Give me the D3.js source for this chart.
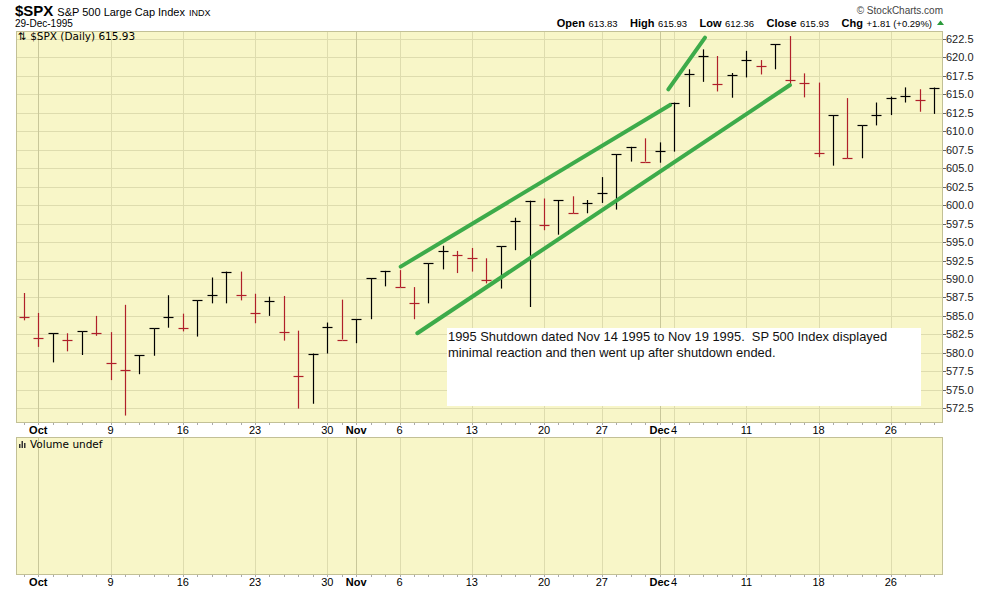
<!DOCTYPE html>
<html><head><meta charset="utf-8">
<script src="https://cdn.jsdelivr.net/npm/d3@7/dist/d3.min.js"></script>
<style>body{margin:0;background:#fff}svg{display:block}</style>
</head><body>
<svg id="chart" width="990" height="591"></svg>
<script>
// ---- data ----
const dates = ["1995-09-29","1995-10-02","1995-10-03","1995-10-04","1995-10-05","1995-10-06","1995-10-09","1995-10-10","1995-10-11","1995-10-12","1995-10-13","1995-10-16","1995-10-17","1995-10-18","1995-10-19","1995-10-20","1995-10-23","1995-10-24","1995-10-25","1995-10-26","1995-10-27","1995-10-30","1995-10-31","1995-11-01","1995-11-02","1995-11-03","1995-11-06","1995-11-07","1995-11-08","1995-11-09","1995-11-10","1995-11-13","1995-11-14","1995-11-15","1995-11-16","1995-11-17","1995-11-20","1995-11-21","1995-11-22","1995-11-24","1995-11-27","1995-11-28","1995-11-29","1995-11-30","1995-12-01","1995-12-04","1995-12-05","1995-12-06","1995-12-07","1995-12-08","1995-12-11","1995-12-12","1995-12-13","1995-12-14","1995-12-15","1995-12-18","1995-12-19","1995-12-20","1995-12-21","1995-12-22","1995-12-26","1995-12-27","1995-12-28","1995-12-29"];
const openP  = [584.8,582.0,582.65,581.75,582.9,582.75,578.6,577.7,579.7,583.3,584.8,583.3,587.1,587.8,591.0,587.8,585.4,587.0,582.8,576.8,579.9,583.5,581.8,584.55,590.1,591.1,588.9,586.7,592.1,593.8,593.25,592.8,589.8,594.4,597.8,600.6,597.3,600.7,598.9,600.3,601.7,606.9,607.9,605.9,607.3,613.9,617.75,620.2,616.4,617.6,619.6,618.8,621.8,617.0,616.6,607.1,612.2,606.35,610.8,612.2,614.5,614.8,614.3,615.93];
const highP  = [588.1,585.4,582.65,582.65,582.9,585.0,582.8,586.5,579.7,583.3,587.8,585.3,587.1,590.2,591.0,591.0,588.0,587.6,587.7,583.0,579.9,584.1,587.2,584.55,590.1,591.1,591.2,588.9,592.1,594.5,593.8,594.2,592.8,594.4,598.3,600.6,600.9,600.7,601.2,600.7,603.8,606.9,607.9,609.05,608.5,613.9,618.4,621.1,620.2,617.9,620.9,619.65,621.8,622.9,617.85,616.6,612.2,614.5,610.8,613.9,614.7,615.95,615.7,615.93];
const lowP   = [584.4,580.8,578.7,580.2,579.7,582.3,576.3,571.5,577.1,579.6,583.4,582.9,582.2,586.7,586.7,587.1,584.0,585.0,581.65,572.45,573.1,579.9,581.8,581.3,584.55,589.0,588.9,584.55,586.7,591.3,590.8,591.0,589.4,588.7,593.9,586.2,596.6,596.0,598.9,598.9,600.3,599.4,605.9,605.9,605.75,607.25,613.3,616.7,615.4,614.55,617.3,617.7,618.4,616.3,614.6,606.5,605.35,606.35,606.35,610.8,612.2,613.9,612.65,612.36];
const closeP = [584.8,582.0,582.65,581.75,582.9,582.75,578.6,577.7,579.7,583.3,584.8,583.3,587.1,587.8,591.0,587.8,585.4,587.0,582.8,576.8,579.9,583.5,581.8,584.55,590.1,591.1,588.9,586.7,592.1,593.8,593.25,592.8,589.8,594.4,597.8,600.6,597.3,600.7,598.9,600.3,601.7,606.9,607.9,605.9,607.3,613.9,617.75,620.2,616.4,617.6,619.6,618.8,621.8,617.0,616.6,607.1,612.2,606.35,610.8,612.2,614.5,614.8,614.3,615.93];
const priorClose = 585.9;

const xTickDates  = ["1995-10-02","1995-10-09","1995-10-16","1995-10-23","1995-10-30","1995-11-01","1995-11-06","1995-11-13","1995-11-20","1995-11-27","1995-12-01","1995-12-04","1995-12-11","1995-12-18","1995-12-26"];
const xTickLabels = ["Oct","9","16","23","30","Nov","6","13","20","27","Dec","4","11","18","26"];
const monthTicks  = ["1995-10-02","1995-11-01","1995-12-01"];
const yTicks = [572.5,575,577.5,580,582.5,585,587.5,590,592.5,595,597.5,600,602.5,605,607.5,610,612.5,615,617.5,620,622.5];

// trend lines drawn on the chart (date index, price)
const upperChannel = [[26.08,591.67],[44.72,613.56]];
const lowerChannel = [[27.23,582.65],[53.02,616.27]];
const steepLine    = [[44.6,615.69],[47.14,622.68]];

const quoteLabels = ["Open","High","Low","Close","Chg"];
const quoteValues = ["613.83","615.93","612.36","615.93","+1.81 (+0.29%)"];

const noteLines = ["1995 Shutdown dated Nov 14 1995 to Nov 19 1995.  SP 500 Index displayed","minimal reaction and then went up after shutdown ended."];

// ---- layout ----
const L = 16, R = 943, T1 = 31.5, B1 = 422.5, T2 = 437.5, B2 = 574.5;
const BG = "#f8f6c8", GRID = "#dedcae", MGRID = "#c9c79a", BORDER = "#c2c096";
const UP = "#000000", DOWN = "#b0202a";
const FONT = "'Liberation Sans', Arial, sans-serif";

const svg = d3.select("#chart");
const x = d3.scaleLinear().domain([-0.543, 63.61]).range([L, R]);
const y = d3.scaleLinear().domain([570.56, 623.52]).range([B1, T1]);
const idx = d => dates.indexOf(d);
const px = v => Math.round(v) + 0.5;

// panels
[[T1,B1],[T2,B2]].forEach(([t,b]) => {
  svg.append("rect").attr("x", L).attr("y", t).attr("width", R - L).attr("height", b - t).attr("fill", BG);
});
// horizontal gridlines (main)
svg.append("g").selectAll("line").data(yTicks).join("line")
  .attr("x1", L).attr("x2", R).attr("y1", d => px(y(d))).attr("y2", d => px(y(d)))
  .attr("stroke", GRID).attr("stroke-width", 1);
// vertical gridlines both panels
[[T1,B1],[T2,B2]].forEach(([t,b]) => {
  svg.append("g").selectAll("line").data(xTickDates).join("line")
    .attr("x1", d => px(x(idx(d)))).attr("x2", d => px(x(idx(d))))
    .attr("y1", t).attr("y2", b)
    .attr("stroke", d => monthTicks.includes(d) ? MGRID : GRID).attr("stroke-width", 1);
  svg.append("rect").attr("x", L + 0.5).attr("y", t).attr("width", R - L - 1).attr("height", b - t)
    .attr("fill", "none").attr("stroke", BORDER);
  // minor day ticks
  svg.append("g").selectAll("line").data(dates).join("line")
    .attr("x1", (d,i) => px(x(i))).attr("x2", (d,i) => px(x(i)))
    .attr("y1", b + 0.5).attr("y2", b + 2.5).attr("stroke", "#aaa");
});

// y axis
const ya = svg.append("g");
ya.selectAll("line").data(yTicks).join("line")
  .attr("x1", R).attr("x2", R + 3).attr("y1", d => px(y(d))).attr("y2", d => px(y(d))).attr("stroke", "#666");
ya.selectAll("text").data(yTicks).join("text")
  .attr("x", R + 3).attr("y", d => y(d) + 4).attr("font-family", FONT).attr("font-size", 11).attr("fill", "#222")
  .text(d => d3.format(".1f")(d));

// x labels
[434, 586].forEach(by => {
  svg.append("g").selectAll("text").data(xTickDates).join("text")
    .attr("x", d => x(idx(d))).attr("y", by).attr("text-anchor", "middle")
    .attr("font-family", FONT).attr("font-size", 11)
    .attr("font-weight", d => monthTicks.includes(d) ? "bold" : "normal")
    .text((d,i) => xTickLabels[i]);
});

// OHLC bars
const bars = svg.append("g");
dates.forEach((d, i) => {
  const prev = i === 0 ? priorClose : closeP[i-1];
  const col = closeP[i] < prev ? DOWN : UP;
  const cx = px(x(i));
  bars.append("line").attr("x1", cx).attr("x2", cx).attr("y1", y(highP[i])).attr("y2", y(lowP[i])).attr("stroke", col).attr("stroke-width", 1.2);
  bars.append("line").attr("x1", cx - 5).attr("x2", cx).attr("y1", px(y(openP[i]))).attr("y2", px(y(openP[i]))).attr("stroke", col).attr("stroke-width", 1.2);
  bars.append("line").attr("x1", cx).attr("x2", cx + 5).attr("y1", px(y(closeP[i]))).attr("y2", px(y(closeP[i]))).attr("stroke", col).attr("stroke-width", 1.2);
});

// trend lines
const tl = d3.line().x(d => x(d[0])).y(d => y(d[1]));
[upperChannel, lowerChannel, steepLine].forEach(seg => {
  svg.append("path").attr("d", tl(seg)).attr("stroke", "#3dab4a").attr("stroke-width", 4)
    .attr("stroke-linecap", "round").attr("fill", "none");
});

// annotation
svg.append("rect").attr("x", 447).attr("y", 328).attr("width", 474).attr("height", 78).attr("fill", "#fff");
svg.append("g").selectAll("text").data(noteLines).join("text")
  .attr("x", 448).attr("y", (d,i) => 341 + i*15.5).attr("font-family", FONT).attr("font-size", 12.9)
  .attr("fill", "#111").style("white-space", "pre").text(d => d);

// header
const h = svg.append("text").attr("x", 15).attr("y", 16).attr("font-family", FONT).attr("fill", "#000");
h.append("tspan").attr("font-size", 15).attr("font-weight", "bold").text("$SPX");
h.append("tspan").attr("font-size", 11).attr("dx", 4).text("S&P 500 Large Cap Index");
h.append("tspan").attr("font-size", 9).attr("dx", 4).text("INDX");
svg.append("text").attr("x", 15).attr("y", 27).attr("font-family", FONT).attr("font-size", 10).text("29-Dec-1995");
svg.append("text").attr("x", 943).attr("y", 14).attr("text-anchor", "end").attr("font-family", FONT)
  .attr("font-size", 10).attr("fill", "#444").text("\u00A9 StockCharts.com");
const q = svg.append("text").attr("x", 932).attr("y", 27).attr("text-anchor", "end").attr("font-family", FONT).attr("fill", "#000");
quoteLabels.forEach((lab, k) => {
  q.append("tspan").attr("font-size", 11).attr("font-weight", "bold").attr("dx", k ? 12.5 : 0).text(lab);
  q.append("tspan").attr("font-size", 9.5).attr("dx", 3.5).text(quoteValues[k]);
});
svg.append("path").attr("d", "M937,25 L940.5,20.5 L944,25 Z").attr("fill", "#2a9a3a");

// panel labels
svg.append("text").attr("x", 18).attr("y", 40).attr("font-family", "'DejaVu Sans', sans-serif").attr("font-size", 10.5)
  .text("\u21C5 $SPX (Daily) 615.93");
const vi = svg.append("g").attr("fill", "#333");
[[19,444,1.5,4],[21.5,441,1.5,7],[24,443,1.5,5]].forEach(r => vi.append("rect").attr("x", r[0]).attr("y", r[1]).attr("width", r[2]).attr("height", r[3]));
svg.append("text").attr("x", 30).attr("y", 448).attr("font-family", "'DejaVu Sans', sans-serif").attr("font-size", 10.5)
  .text("Volume undef");
</script>
</body></html>
